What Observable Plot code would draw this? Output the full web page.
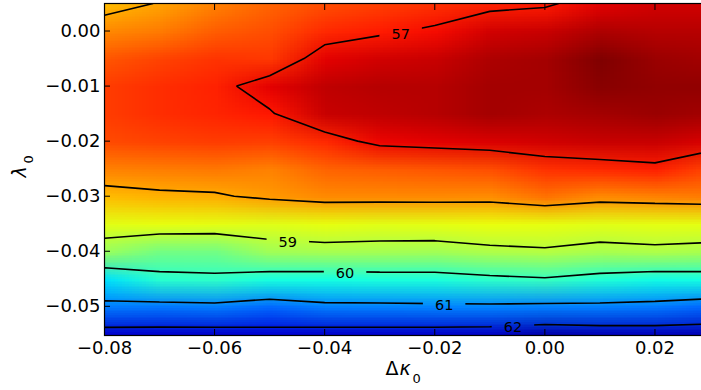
<!DOCTYPE html>
<html><head><meta charset="utf-8">
<script src="https://cdn.jsdelivr.net/npm/d3@7"></script>
<script src="https://cdn.jsdelivr.net/npm/@observablehq/plot@0.6"></script>
<style>body{margin:0;background:#fff} svg{display:block}</style>
</head><body><div id="chart"></div>
<script>
// grid nodes (Δκ0 columns, λ0 rows) and chi² values
const kappaNodes = [-0.08, -0.07, -0.06, -0.05, -0.04, -0.03, -0.02, -0.01, 0.00, 0.01, 0.02, 0.03];
const lambdaNodes = [0.005, 0.000, -0.005, -0.010, -0.015, -0.020, -0.025, -0.030, -0.035, -0.040, -0.045, -0.050, -0.055];
const chiRows = [
  [58.15, 57.98, 57.75, 57.55, 57.40, 57.30, 57.20, 57.10, 57.05, 56.85, 56.75, 56.75],
  [57.80, 57.70, 57.50, 57.40, 57.15, 57.05, 56.95, 56.75, 56.70, 56.55, 56.60, 56.60],
  [57.45, 57.32, 57.22, 57.25, 56.85, 56.75, 56.70, 56.55, 56.50, 56.30, 56.45, 56.50],
  [57.28, 57.18, 57.10, 56.85, 56.65, 56.60, 56.60, 56.50, 56.50, 56.35, 56.40, 56.40],
  [57.28, 57.18, 57.12, 57.03, 56.70, 56.65, 56.60, 56.50, 56.55, 56.50, 56.45, 56.50],
  [57.38, 57.32, 57.28, 57.30, 57.15, 56.90, 56.85, 56.80, 56.75, 56.70, 56.70, 56.80],
  [57.76, 57.72, 57.69, 57.75, 57.55, 57.50, 57.45, 57.40, 57.20, 57.15, 57.08, 57.35],
  [58.15, 58.08, 58.05, 57.91, 57.81, 57.81, 57.81, 57.83, 57.65, 57.81, 57.76, 57.71],
  [58.70, 58.66, 58.68, 58.72, 58.66, 58.70, 58.68, 58.64, 58.66, 58.70, 58.68, 58.68],
  [59.27, 59.57, 59.57, 59.21, 59.16, 59.18, 59.20, 59.10, 59.05, 59.15, 59.10, 59.15],
  [60.49, 60.15, 60.11, 60.28, 60.30, 60.26, 60.25, 60.12, 60.04, 60.21, 60.32, 60.30],
  [61.13, 61.16, 61.12, 61.25, 61.11, 61.10, 61.08, 61.08, 61.11, 61.11, 61.15, 61.27],
  [62.27, 62.27, 62.28, 62.24, 62.28, 62.28, 62.29, 62.32, 62.46, 62.38, 62.36, 62.41]
];
const contourLevels = [57, 58, 59, 60, 61, 62];
const labelLevels = [57, 59, 60, 61, 62];
const labelKappa = [-0.0262, -0.0467, -0.0363, -0.0183, -0.0058];
const xTicks = [-0.08, -0.06, -0.04, -0.02, 0.00, 0.02];
const yTicks = [0.00, -0.01, -0.02, -0.03, -0.04, -0.05];

// matplotlib "jet" segment data
const jetR = [[0,0],[0.35,0],[0.66,1],[0.89,1],[1,0.5]];
const jetG = [[0,0],[0.125,0],[0.375,1],[0.64,1],[0.91,0],[1,0]];
const jetB = [[0,0.5],[0.11,1],[0.34,1],[0.65,0],[1,0]];
function seg(stops, t) {
  t = Math.max(0, Math.min(1, t));
  for (let i = 1; i < stops.length; i++) {
    if (t <= stops[i][0]) {
      const [x0, y0] = stops[i-1], [x1, y1] = stops[i];
      return y0 + (y1 - y0) * (t - x0) / (x1 - x0);
    }
  }
  return stops[stops.length-1][1];
}
function jet(t) { return d3.rgb(255*seg(jetR,t), 255*seg(jetG,t), 255*seg(jetB,t)).toString(); }

const nW = kappaNodes.length, nH = lambdaNodes.length;
const dk = kappaNodes[1] - kappaNodes[0], dl = lambdaNodes[0] - lambdaNodes[1];
const grid = chiRows.flat();
const gx1 = kappaNodes[0] - dk/2, gx2 = kappaNodes[nW-1] + dk/2;
const gy1 = lambdaNodes[0] + dl/2, gy2 = lambdaNodes[nH-1] - dl/2;

function labelLambda(kappa, level) {
  const fi = (kappa - kappaNodes[0]) / dk, i0 = Math.floor(fi), t = fi - i0;
  const col = chiRows.map(r => r[i0]*(1-t) + r[i0+1]*t);
  for (let j = 0; j < col.length - 1; j++) {
    const a = col[j], b = col[j+1];
    if ((a - level) * (b - level) <= 0 && a !== b)
      return lambdaNodes[j] + (lambdaNodes[j+1] - lambdaNodes[j]) * (level - a) / (b - a);
  }
  return NaN;
}
const labels = labelLevels.map((level, i) => ({level, kappa: labelKappa[i], lambda: labelLambda(labelKappa[i], level)}));

const fmt = d3.format(".2f");
const svg = Plot.plot({
  width: 701, height: 390,
  marginLeft: 104, marginRight: -3, marginTop: 3, marginBottom: 55,
  style: {fontFamily: "DejaVu Sans", background: "white", color: "black"},
  x: {domain: [-0.08, 0.029]},
  y: {domain: [-0.0553, 0.005]},
  color: {type: "linear", domain: [56.3, 62.7], interpolate: t => jet(1 - t), clamp: true},
  marks: [
    Plot.raster(grid, {width: nW, height: nH, x1: gx1, x2: gx2, y1: gy1, y2: gy2, fill: d => d, clip: true}),
    Plot.contour(grid, {width: nW, height: nH, x1: gx1, x2: gx2, y1: gy1, y2: gy2, value: d => d,
      thresholds: contourLevels, fill: "none", stroke: "black", strokeWidth: 1.6, clip: true}),
    Plot.text(labels, {x: "kappa", y: "lambda", text: d => String(d.level), fill: "black", fontSize: 14.5, dy: 2}),
    Plot.frame({stroke: "black", strokeWidth: 1.2}),
    Plot.axisX(xTicks, {anchor: "bottom", tickSize: -6, tickPadding: 12, tickFormat: fmt, fontSize: 18, label: null}),
    Plot.axisX(xTicks, {anchor: "top", tickSize: -6, tickFormat: () => "", label: null}),
    Plot.axisY(yTicks, {anchor: "left", tickSize: -6, tickPadding: 10, tickFormat: fmt, fontSize: 18, label: null}),
    Plot.text(["Δ"], {frameAnchor: "bottom", text: d => d, textAnchor: "end", dx: -6, dy: 39, fontSize: 19}),
    Plot.text(["κ"], {frameAnchor: "bottom", text: d => d, textAnchor: "start", dx: -5, dy: 39, fontSize: 19, fontStyle: "italic"}),
    Plot.text(["0"], {frameAnchor: "bottom", text: d => d, textAnchor: "start", dx: 8, dy: 47, fontSize: 13}),
    Plot.text(["λ"], {frameAnchor: "left", text: d => d, rotate: -90, dx: -85, dy: 8, fontSize: 19, fontStyle: "italic"}),
    Plot.text(["0"], {frameAnchor: "left", text: d => d, rotate: -90, dx: -76, dy: -6, fontSize: 13})
  ]
});
document.getElementById("chart").append(svg);

// cut the contour lines under their labels, as matplotlib's clabel does
const ns = "http://www.w3.org/2000/svg";
const labelSet = new Set(labelLevels.map(String));
const sr = svg.getBoundingClientRect();
const texts = [...svg.querySelectorAll('g[aria-label="text"] text')].filter(t => labelSet.has(t.textContent));
const defs = document.createElementNS(ns, "defs");
const mask = document.createElementNS(ns, "mask");
mask.setAttribute("id", "label-mask");
mask.setAttribute("maskUnits", "userSpaceOnUse");
mask.setAttribute("x", 0); mask.setAttribute("y", 0);
mask.setAttribute("width", 701); mask.setAttribute("height", 390);
const bg = document.createElementNS(ns, "rect");
bg.setAttribute("x", 0); bg.setAttribute("y", 0); bg.setAttribute("width", 701); bg.setAttribute("height", 390); bg.setAttribute("fill", "white");
mask.append(bg);
for (const t of texts) {
  const r = t.getBoundingClientRect();
  const rect = document.createElementNS(ns, "rect");
  rect.setAttribute("x", r.left - sr.left - 12);
  rect.setAttribute("y", r.top - sr.top - 1);
  rect.setAttribute("width", r.width + 24);
  rect.setAttribute("height", r.height + 2);
  rect.setAttribute("fill", "black");
  mask.append(rect);
}
defs.append(mask);
svg.prepend(defs);
const cg = svg.querySelector('g[aria-label="contour"]');
if (cg) cg.setAttribute("mask", "url(#label-mask)");
</script>
</body></html>
